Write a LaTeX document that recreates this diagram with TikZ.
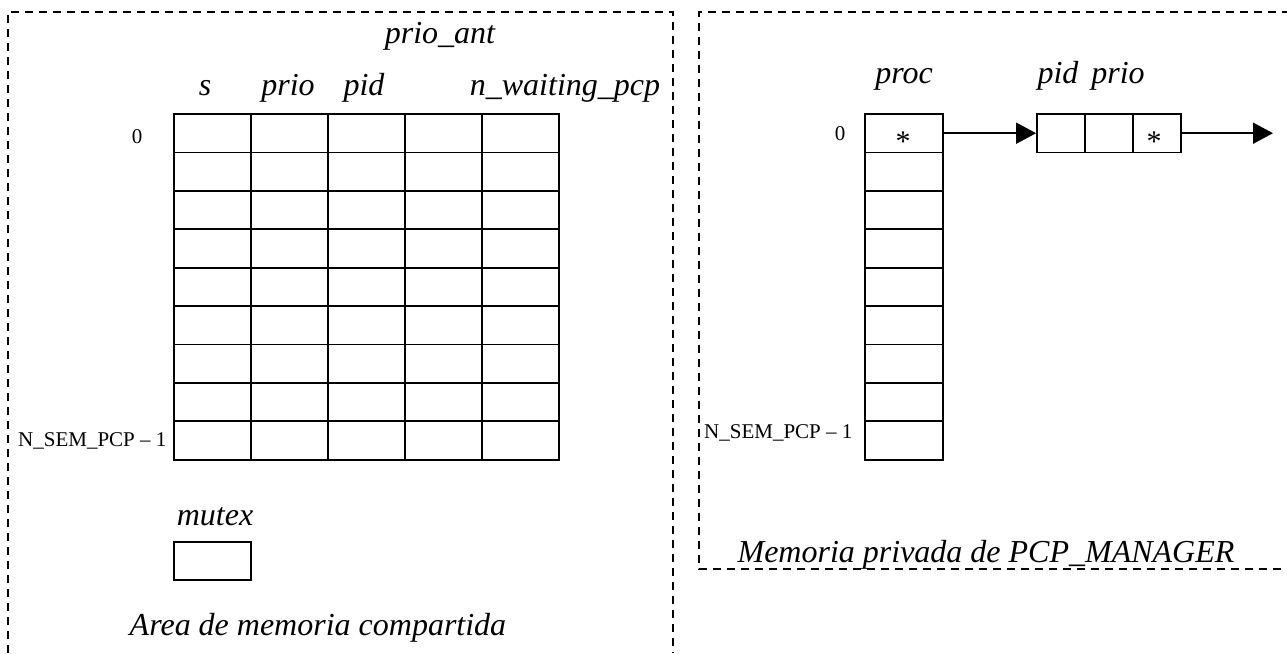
\documentclass[tikz,border=0pt]{standalone}
\usepackage{fontspec}
\setmainfont{Liberation Serif}
\usetikzlibrary{arrows.meta}

\begin{document}
\begin{tikzpicture}[x=1pt,y=-1pt,
	cell/.style={rectangle,draw,line width=1.8pt,minimum width=77pt,minimum height=38.4pt,inner sep=0pt},
	slot/.style={rectangle,draw,line width=1.8pt,minimum width=48pt,minimum height=38.4pt,inner sep=0pt},
	field/.style={font=\fontsize{32}{38}\selectfont\itshape,inner sep=0pt,anchor=base},
	index/.style={font=\fontsize{21}{25}\selectfont,inner sep=0pt,anchor=base},
	area/.style={dash pattern=on 8pt off 6pt,line width=2pt},
	pointer/.style={-{Triangle[length=20pt,width=21pt]},line width=1.8pt}]
	\useasboundingbox (0,0) rectangle (1287,653);
	\draw [area] (8,653) -- (8,12) -- (673,12) -- (673,653);
	\draw [area] (1290,12) -- (699,12) -- (699,569) -- (1290,569);

	\foreach \r in {0,...,8}
		\foreach \c in {0,...,4}
			\node [cell] (sem-\r-\c) at (212.5+77*\c,133.2+38.4*\r) {};
	\node [field] (prioAnt) at (440,43) {prio\_ant};
	\node [field] (sField) at (205,95) {s};
	\node [field] (prioField) at (288,95) {prio};
	\node [field] (pidField) at (364,95) {pid};
	\node [field] (waitField) at (565,95) {n\_waiting\_pcp};
	\node [index] (semFirst) at (137,143) {0};
	\node [index,anchor=base west] (semLast) at (18,446) {N\_SEM\_PCP \textendash\ 1};
	\node [field] (mutexLbl) at (215,525) {mutex};
	\node [cell] (mutex) at (212.5,561) {};
	\node [field] (sharedLbl) at (318,635) {Area de memoria compartida};

	\foreach \r in {0,...,8}
		\node [cell,minimum width=78pt] (proc-\r) at (904,133.2+38.4*\r) {};
	\node [field] (procField) at (904,83) {proc};
	\node [field] (pidElem) at (1058,83) {pid};
	\node [field] (prioElem) at (1118,83) {prio};
	\node [index] (procFirst) at (840,140) {0};
	\node [index,anchor=base west] (procLast) at (704,438) {N\_SEM\_PCP \textendash\ 1};
	\node [index,anchor=center,font=\fontsize{30}{34}\selectfont] (procStar) at (903,142) {*};
	\foreach \c in {0,1,2}
		\node [slot] (elem-\c) at (1061+48*\c,133.2) {};
	\node [index,anchor=center,font=\fontsize{30}{34}\selectfont] (elemStar) at (1154,142) {*};
	\coordinate (nextElem) at (1273,133.2);
	\draw [pointer] (proc-0) -- (elem-0);
	\draw [pointer] (elem-2.east) -- (nextElem);
	\node [field] (privateLbl) at (986,562) {Memoria privada de PCP\_MANAGER};
\end{tikzpicture}
\end{document}
